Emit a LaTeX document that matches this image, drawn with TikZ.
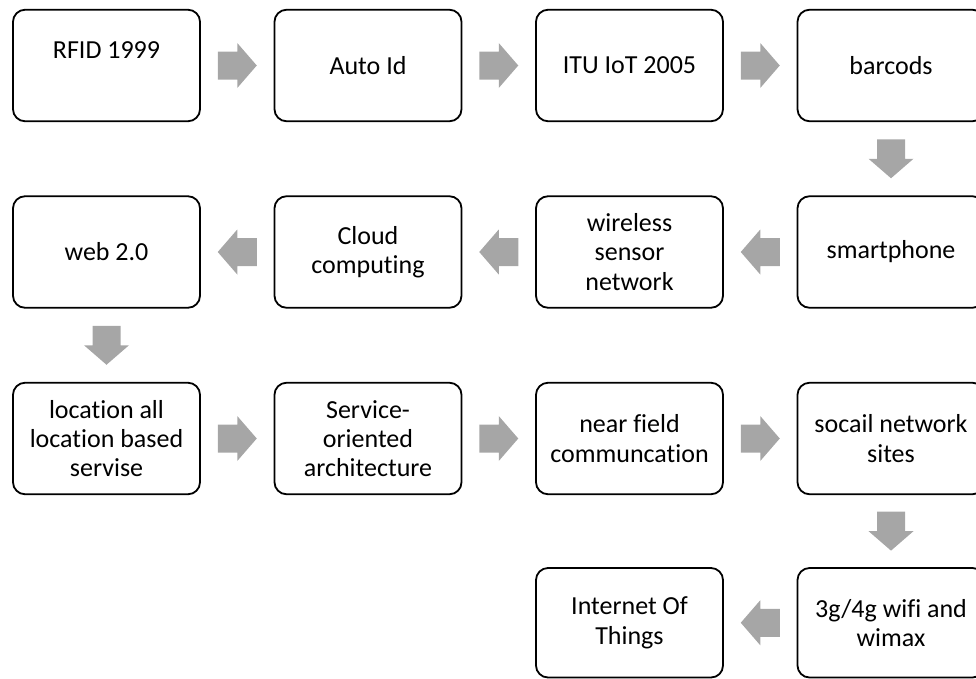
\documentclass[tikz,border=0pt]{standalone}
\usepackage{fontspec}
\setmainfont{Carlito}[Ligatures={NoCommon}]
\usetikzlibrary{calc}
\definecolor{arrowgray}{RGB}{166,166,166}
\tikzset{
  stagebox/.style={draw=black, line width=1.8pt, rounded corners=12pt,
    minimum width=187pt, minimum height=111.5pt, align=center, inner sep=2pt,
    font=\fontsize{26}{29.3}\selectfont, text=black},
  lastrow/.style={minimum height=109.5pt},
  raisedtext/.style={text height=16pt, text depth=31pt},
  blockarrow/.pic={\fill[arrowgray] (-19.5,-14) -- (0,-14) -- (0,-22.5) -- (19.5,0) -- (0,22.5) -- (0,14) -- (-19.5,14) -- cycle;}
}
\begin{document}
\begin{tikzpicture}[x=1pt,y=1pt]
\useasboundingbox (0,0) rectangle (976,-678);
\clip (0,0) rectangle (976,-678);
% row 1
\node[stagebox,raisedtext] (a1) at (106.5,-65.5) {RFID 1999};
\node[stagebox] (a2) at (368,-65.5) {Auto Id};
\node[stagebox] (a3) at (629.5,-65.5) {ITU IoT 2005};
\node[stagebox] (a4) at (891,-65.5) {barcods};
% row 2
\node[stagebox] (b4) at (891,-252) {smartphone};
\node[stagebox] (b3) at (629.5,-252) {wireless\\sensor\\network};
\node[stagebox] (b2) at (368,-252) {Cloud\\computing};
\node[stagebox] (b1) at (106.5,-252) {web 2.0};
% row 3
\node[stagebox] (c1) at (106.5,-438.5) {location all\\location based\\servise};
\node[stagebox] (c2) at (368,-438.5) {Service-\\oriented\\architecture};
\node[stagebox] (c3) at (629.5,-438.5) {near field\\communcation};
\node[stagebox] (c4) at (891,-438.5) {socail network\\sites};
% row 4
\node[stagebox,lastrow] (d4) at (891,-622.75) {3g/4g wifi and\\wimax};
\node[stagebox,lastrow] (d3) at (629.5,-622.75) {Internet Of\\Things};
% block arrows
\path ($(a1.east)!0.5!(a2.west)$) pic {blockarrow};
\path ($(a2.east)!0.5!(a3.west)$) pic {blockarrow};
\path ($(a3.east)!0.5!(a4.west)$) pic {blockarrow};
\path ($(a4.south)!0.5!(b4.north)$) pic[rotate=-90] {blockarrow};
\path ($(b4.west)!0.5!(b3.east)$) pic[rotate=180] {blockarrow};
\path ($(b3.west)!0.5!(b2.east)$) pic[rotate=180] {blockarrow};
\path ($(b2.west)!0.5!(b1.east)$) pic[rotate=180] {blockarrow};
\path ($(b1.south)!0.5!(c1.north)$) pic[rotate=-90] {blockarrow};
\path ($(c1.east)!0.5!(c2.west)$) pic {blockarrow};
\path ($(c2.east)!0.5!(c3.west)$) pic {blockarrow};
\path ($(c3.east)!0.5!(c4.west)$) pic {blockarrow};
\path ($(c4.south)!0.5!(d4.north)$) pic[rotate=-90] {blockarrow};
\path ($(d4.west)!0.5!(d3.east)$) pic[rotate=180] {blockarrow};
\end{tikzpicture}
\end{document}
